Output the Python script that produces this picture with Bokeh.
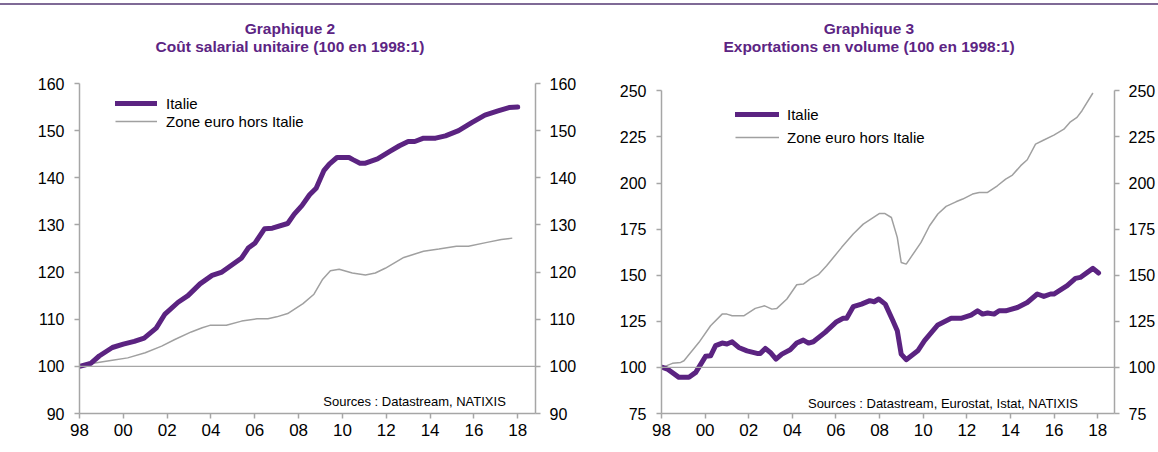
from bokeh.plotting import figure
from bokeh.models import Range1d, LinearAxis, FixedTicker, Span, Label, Legend, LegendItem, Div
from bokeh.layouts import row, column
from bokeh.embed import file_html
from bokeh.resources import INLINE

# ---------------- data ----------------
x_ticks = [1998, 2000, 2002, 2004, 2006, 2008, 2010, 2012, 2014, 2016, 2018]
x_tick_labels = ["98", "00", "02", "04", "06", "08", "10", "12", "14", "16", "18"]

series_names = ["Italie", "Zone euro hors Italie"]

# Graphique 2 : Coût salarial unitaire (100 en 1998:1)
ulc_it_x = [1998.0, 1998.5, 1998.9, 1999.5, 2000.0, 2000.5, 2000.95, 2001.5, 2001.9, 2002.5,
            2002.95, 2003.5, 2004.05, 2004.5, 2004.95, 2005.4, 2005.7, 2006.0, 2006.45, 2006.8,
            2007.5, 2007.8, 2008.15, 2008.5, 2008.8, 2009.15, 2009.4, 2009.75, 2010.3, 2010.5,
            2010.8, 2011.05, 2011.6, 2012.2, 2012.6, 2013.0, 2013.3, 2013.7, 2014.25, 2014.7,
            2015.3, 2015.9, 2016.5, 2017.1, 2017.6, 2018.0]
ulc_it_y = [100.0, 100.6, 102.2, 104.0, 104.7, 105.3, 106.0, 108.1, 111.1, 113.6,
            115.0, 117.5, 119.3, 120.0, 121.5, 123.0, 125.1, 126.1, 129.2, 129.3,
            130.3, 132.3, 134.1, 136.4, 137.8, 141.5, 142.9, 144.3, 144.3, 143.8,
            143.1, 143.1, 144.0, 145.7, 146.8, 147.7, 147.7, 148.4, 148.4, 148.9,
            150.0, 151.7, 153.3, 154.2, 154.9, 155.0]
ulc_ez_x = [1998.0, 1998.7, 1999.5, 2000.2, 2001.0, 2001.75, 2002.35, 2003.1, 2003.6, 2003.95,
            2004.7, 2005.4, 2006.1, 2006.6, 2007.0, 2007.5, 2008.2, 2008.7, 2009.1, 2009.45,
            2009.85, 2010.45, 2011.05, 2011.5, 2011.95, 2012.8, 2013.7, 2014.4, 2015.2, 2015.75,
            2016.6, 2017.25, 2017.75]
ulc_ez_y = [100.0, 100.7, 101.3, 101.8, 102.9, 104.3, 105.7, 107.3, 108.2, 108.7,
            108.7, 109.6, 110.1, 110.1, 110.5, 111.2, 113.3, 115.3, 118.5, 120.3,
            120.6, 119.8, 119.4, 119.8, 120.8, 123.1, 124.4, 124.9, 125.5, 125.5,
            126.3, 126.9, 127.2]

# Graphique 3 : Exportations en volume (100 en 1998:1)
exp_it_x = [1998.05, 1998.27, 1998.8, 1999.26, 1999.57, 2000.02, 2000.25, 2000.48, 2000.78, 2001.0,
            2001.24, 2001.54, 2001.92, 2002.38, 2002.53, 2002.76, 2002.99, 2003.25, 2003.52, 2003.9,
            2004.2, 2004.5, 2004.74, 2004.96, 2005.5, 2006.03, 2006.33, 2006.49, 2006.79, 2007.17,
            2007.55, 2007.75, 2007.96, 2008.26, 2008.61, 2008.81, 2008.99, 2009.22, 2009.75, 2010.06,
            2010.67, 2011.28, 2011.73, 2012.19, 2012.49, 2012.72, 2012.95, 2013.25, 2013.48, 2013.78,
            2014.32, 2014.77, 2015.23, 2015.53, 2015.84, 2015.99, 2016.6, 2016.98, 2017.2, 2017.78,
            2018.04]
exp_it_y = [100.0, 99.1, 94.6, 94.6, 97.3, 106.0, 106.3, 111.8, 113.2, 112.7,
            113.9, 110.8, 109.0, 107.6, 107.6, 110.3, 108.1, 104.5, 107.2, 109.6,
            113.2, 114.8, 113.2, 113.9, 119.0, 124.8, 126.6, 126.6, 132.9, 134.3,
            136.2, 135.6, 137.1, 134.3, 125.3, 119.9, 107.2, 104.2, 109.0, 114.5,
            123.0, 126.6, 126.6, 128.4, 130.7, 128.9, 129.5, 128.9, 130.7, 130.7,
            132.5, 135.2, 139.8, 138.5, 139.8, 139.8, 144.3, 148.3, 148.8, 153.7,
            151.2]
exp_ez_x = [1998.05, 1998.5, 1998.88, 1999.03, 1999.72, 2000.25, 2000.78, 2001.0, 2001.24, 2001.77,
            2002.3, 2002.73, 2003.06, 2003.29, 2003.75, 2004.2, 2004.5, 2004.81, 2005.19, 2005.57,
            2006.26, 2006.79, 2007.25, 2008.0, 2008.23, 2008.54, 2008.81, 2008.99, 2009.22, 2009.9,
            2010.29, 2010.67, 2011.05, 2011.5, 2011.81, 2012.26, 2012.57, 2012.95, 2013.4, 2013.78,
            2014.09, 2014.47, 2014.77, 2015.15, 2015.46, 2015.99, 2016.45, 2016.75, 2017.05, 2017.28,
            2017.78]
exp_ez_y = [100.0, 102.2, 102.7, 103.6, 113.6, 122.6, 128.9, 128.9, 128.0, 128.0,
            132.0, 133.4, 131.6, 132.0, 137.1, 144.8, 145.2, 147.9, 150.3, 155.1,
            165.1, 172.3, 177.7, 183.5, 183.5, 181.3, 170.5, 156.9, 156.0, 167.8,
            176.8, 183.2, 187.3, 189.8, 191.3, 194.0, 194.9, 194.9, 198.5, 202.1,
            204.3, 209.4, 212.6, 221.1, 222.9, 226.0, 229.2, 233.2, 235.6, 239.2,
            248.8]

ulc_y_ticks = [90, 100, 110, 120, 130, 140, 150, 160]
exp_y_ticks = [75, 100, 125, 150, 175, 200, 225, 250]

titles_left = ["Graphique 2", "Coût salarial unitaire (100 en 1998:1)"]
titles_right = ["Graphique 3", "Exportations en volume (100 en 1998:1)"]
source_left = "Sources : Datastream,  NATIXIS"
source_right = "Sources : Datastream,  Eurostat,  Istat,  NATIXIS"

# ---------------- style ----------------
PURPLE = "#5b2381"
TITLE_PURPLE = "#5c2483"
GREY = "#a0a0a0"
AXIS_GREY = "#a6a6a6"
FONT = "Liberation Sans"


def style_axis(ax, ticks, size, bounds):
    ax.ticker = FixedTicker(ticks=ticks)
    ax.bounds = bounds
    ax.axis_line_color = AXIS_GREY
    ax.axis_line_width = 1.5
    ax.major_tick_line_color = AXIS_GREY
    ax.major_tick_line_width = 1.5
    ax.major_tick_out = 5
    ax.major_tick_in = 0
    ax.minor_tick_line_color = None
    ax.major_label_text_font = FONT
    ax.major_label_text_font_size = size
    ax.major_label_text_color = "#000000"


def make_chart(width, bl, br, y0, y1, y_top, y_ticks, x_end,
               it_x, it_y, ez_x, ez_y, src_text, src_x, src_y,
               leg_loc, glyph_w, leg_row, leg_spacing, standoff):
    p = figure(width=width, height=378, output_backend="svg", toolbar_location=None,
               x_range=Range1d(1998, x_end), y_range=Range1d(y0, y_top),
               min_border_left=bl, min_border_right=br, min_border_top=13, min_border_bottom=35)
    p.background_fill_color = "white"
    p.border_fill_color = "white"
    p.outline_line_color = None
    p.grid.visible = False

    style_axis(p.yaxis[0], y_ticks, "16px", (y0, y1))
    p.yaxis[0].major_label_standoff = 10
    style_axis(p.xaxis[0], x_ticks, "17px", "auto")
    p.xaxis[0].major_label_overrides = {t: l for t, l in zip(x_ticks, x_tick_labels)}
    p.xaxis[0].major_label_standoff = 5

    rax = LinearAxis()
    style_axis(rax, y_ticks, "16px", (y0, y1))
    rax.major_label_standoff = 9
    p.add_layout(rax, "right")

    p.add_layout(Span(location=100, dimension="width", line_color=AXIS_GREY, line_width=1.2))

    r_ez = p.line(ez_x, ez_y, line_color=GREY, line_width=1.5)
    r_it = p.line(it_x, it_y, line_color=PURPLE, line_width=5, line_cap="round", line_join="round")

    leg = Legend(items=[LegendItem(label=series_names[0], renderers=[r_it]),
                        LegendItem(label=series_names[1], renderers=[r_ez])],
                 location=leg_loc, orientation="vertical")
    leg.background_fill_alpha = 0
    leg.border_line_color = None
    leg.padding = 0
    leg.margin = 0
    leg.spacing = leg_spacing
    leg.glyph_width = glyph_w
    leg.glyph_height = leg_row
    leg.label_height = leg_row
    leg.label_standoff = standoff
    leg.label_text_font = FONT
    leg.label_text_font_size = "15px"
    leg.label_text_color = "#000000"
    p.add_layout(leg)

    p.add_layout(Label(x=src_x, y=src_y, text=src_text, text_align="right", text_baseline="middle",
                       text_font=FONT, text_font_size="13px", text_color="#000000"))
    return p


def title_div(lines, width):
    html = ('<div style="width:%dpx; padding-top:15px; line-height:18px; text-align:center; '
            'font-family:\'Liberation Sans\', Arial, sans-serif; font-weight:bold; '
            'font-size:15.5px; color:%s;">%s</div>') % (width, TITLE_PURPLE, "<br>".join(lines))
    return Div(text=html, width=width, height=65, margin=0,
               styles={"text-align": "center", "width": "%dpx" % width})


p_left = make_chart(580, 79, 45, 90, 160, 160, ulc_y_ticks, 2018.81,
                    ulc_it_x, ulc_it_y, ulc_ez_x, ulc_ez_y,
                    source_left, 2017.62, 92.5,
                    (36, 283), 42, 18, 0, 9)

p_right = make_chart(578, 81, 42, 75, 250, 253.96, exp_y_ticks, 2018.77,
                     exp_it_x, exp_it_y, exp_ez_x, exp_ez_y,
                     source_right, 2017.59, 80.4,
                     (74, 266), 44, 20, 3, 8)

top_rule = Div(text="", width=1158, height=2, margin=(3, 0, 0, 0),
               styles={"background-color": "#7f6a96"})
layout = column(top_rule,
                row(title_div(titles_left, 580), title_div(titles_right, 578)),
                row(p_left, p_right))

open("out.html", "w").write(file_html(layout, INLINE))
